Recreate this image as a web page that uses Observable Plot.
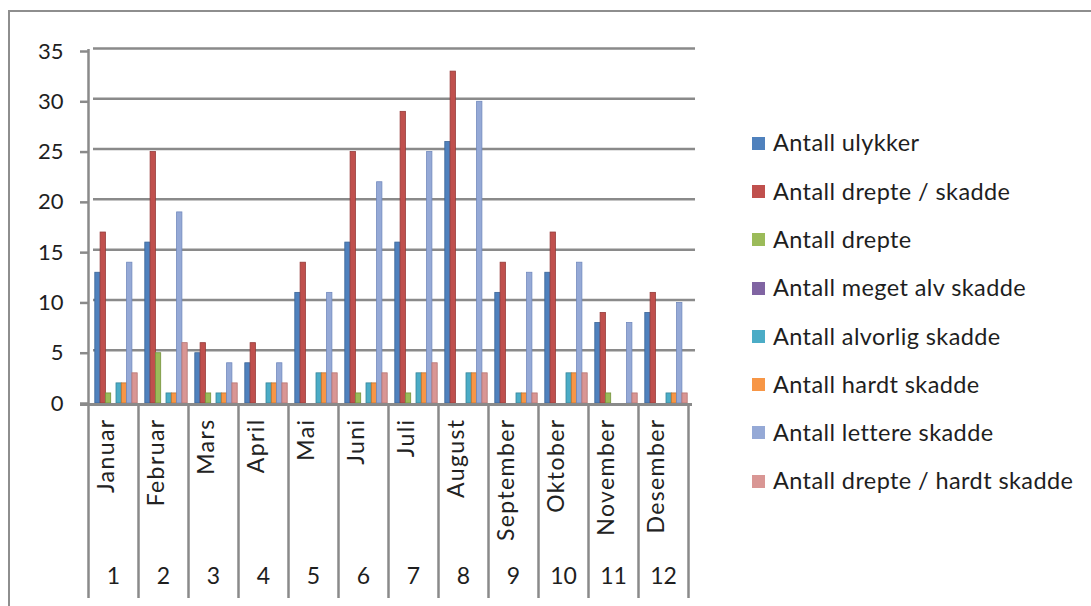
<!DOCTYPE html>
<html>
<head>
<meta charset="utf-8">
<script src="https://cdn.jsdelivr.net/npm/d3@7"></script>
<script src="https://cdn.jsdelivr.net/npm/@observablehq/plot@0.6"></script>
<style>
  html, body { margin: 0; padding: 0; background: #fff; }
  #wrap { position: relative; width: 1091px; height: 606px; overflow: hidden; font-family: Lato, "Open Sans", sans-serif; }
  #border { position: absolute; left: 8px; top: 10px; right: -10px; bottom: -10px; border-top: 2px solid #8e8e8e; border-left: 2px solid #8e8e8e; }
  #chart { position: absolute; left: 0; top: 0; }
  #legend { position: absolute; left: 752px; top: 119px; }
  .item { display: flex; align-items: center; height: 48.3px; margin: 0; }
  .item .sw { width: 13px; height: 13px; margin-right: 8px; flex: none; }
  .item span { font-size: 23.5px; letter-spacing: 0.4px; color: #1e1e1e; white-space: nowrap; line-height: 1; }
</style>
</head>
<body>
<div id="wrap">
  <div id="border"></div>
  <div id="chart"></div>
  <div id="legend"></div>
</div>
<script>
// Monthly traffic-accident statistics
const months = ["Januar", "Februar", "Mars", "April", "Mai", "Juni", "Juli", "August", "September", "Oktober", "November", "Desember"];
const monthNumbers = ["1", "2", "3", "4", "5", "6", "7", "8", "9", "10", "11", "12"];
const seriesNames = [
  "Antall ulykker",
  "Antall drepte / skadde",
  "Antall drepte",
  "Antall meget alv skadde",
  "Antall alvorlig skadde",
  "Antall hardt skadde",
  "Antall lettere skadde",
  "Antall drepte / hardt skadde"
];
const ulykker       = [13, 16, 5, 4, 11, 16, 16, 26, 11, 13, 8, 9];
const drepteSkadde  = [17, 25, 6, 6, 14, 25, 29, 33, 14, 17, 9, 11];
const drepte        = [1, 5, 1, 0, 0, 1, 1, 0, 0, 0, 1, 0];
const megetAlv      = [0, 0, 0, 0, 0, 0, 0, 0, 0, 0, 0, 0];
const alvorlig      = [2, 1, 1, 2, 3, 2, 3, 3, 1, 3, 0, 1];
const hardt         = [2, 1, 1, 2, 3, 2, 3, 3, 1, 3, 0, 1];
const lettere       = [14, 19, 4, 4, 11, 22, 25, 30, 13, 14, 8, 10];
const drepteHardt   = [3, 6, 2, 2, 3, 3, 4, 3, 1, 3, 1, 1];
const yTicks = [0, 5, 10, 15, 20, 25, 30, 35];

const seriesValues = [ulykker, drepteSkadde, drepte, megetAlv, alvorlig, hardt, lettere, drepteHardt];
const fills   = ["#4f81bd", "#c0504d", "#9bbb59", "#8064a2", "#4bacc6", "#f79646", "#95a9d6", "#d99694"];
const strokes = ["#3b6496", "#953a38", "#76923c", "#5f4a7a", "#35869b", "#c0722f", "#7189bd", "#b57472"];

// long-format rows per series
const tables = seriesValues.map((vals, s) =>
  months.map((m, i) => ({month: m, series: seriesNames[s], value: vals[i]}))
);

const band = 50;         // width of one month band
const barW = 5.3;        // width of a single column
const groupStart = 6.8;  // offset of the first column inside its band
const gray = "#8a8a8a";

const barMarks = tables.map((rows, s) =>
  Plot.barY(rows, {
    x: "month",
    y: "value",
    fill: fills[s],
    stroke: strokes[s],
    strokeWidth: 0.8,
    insetLeft: groupStart + s * barW,
    insetRight: band - (groupStart + (s + 1) * barW)
  })
);

const chart = Plot.plot({
  width: 1091,
  height: 606,
  marginLeft: 88,
  marginRight: 403,
  marginTop: 51,
  marginBottom: 203,
  style: {fontFamily: "Lato, 'Open Sans', sans-serif", fontSize: "20px", color: "#1e1e1e", background: "transparent", overflow: "visible"},
  x: {domain: months, padding: 0, axis: null},
  y: {domain: [0, 35], axis: null},
  marks: [
    // back-wall gridlines
    Plot.ruleY(yTicks.filter(t => t > 0), {y: d => d, dy: -3, insetLeft: 5, insetRight: -7, stroke: gray, strokeWidth: 2.5}),
    // y axis line
    Plot.ruleX([months[0]], {x: d => d, dx: -band / 2, insetTop: -2, stroke: gray, strokeWidth: 2.5}),
    Plot.axisY(yTicks, {label: null, tickSize: 8, tickPadding: 17, stroke: gray, strokeWidth: 2.5, fontSize: 22, fill: "#1e1e1e"}),
    // month separator lines below the floor
    Plot.ruleX(months, {x: d => d, dx: -band / 2, insetTop: 352, insetBottom: -195, stroke: gray, strokeWidth: 2.5}),
    Plot.ruleX([months[months.length - 1]], {x: d => d, dx: band / 2, insetTop: 352, insetBottom: -195, stroke: gray, strokeWidth: 2.5}),
    ...barMarks,
    // floor
    Plot.ruleY([0], {dy: 1, insetLeft: -8, insetRight: -4, stroke: gray, strokeWidth: 3}),
    // category labels
    Plot.text(months, {x: d => d, frameAnchor: "bottom", rotate: -90, textAnchor: "end", dy: 15, fontSize: 23, fill: "#222"}),
    Plot.text(monthNumbers, {x: (d, i) => months[i], frameAnchor: "bottom", dy: 180, fontSize: 23, fill: "#1e1e1e"})
  ]
});
// open up the rotated month names a little
d3.select(chart).selectAll("text")
  .filter(function () { return months.includes(this.textContent); })
  .style("letter-spacing", "1.4px");
document.getElementById("chart").appendChild(chart);

// legend
const legend = document.getElementById("legend");
seriesNames.forEach((name, s) => {
  const item = document.createElement("div");
  item.className = "item";
  const sw = document.createElement("div");
  sw.className = "sw";
  sw.style.background = fills[s];
  const label = document.createElement("span");
  label.textContent = name;
  item.appendChild(sw);
  item.appendChild(label);
  legend.appendChild(item);
});
</script>
</body>
</html>
